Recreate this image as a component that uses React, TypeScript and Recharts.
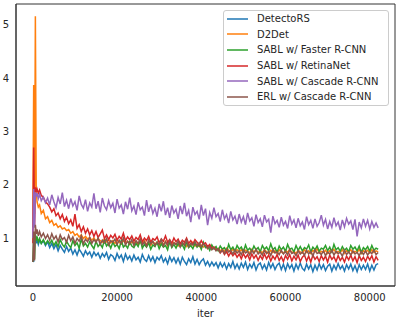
import { LineChart, Line, XAxis, YAxis, ReferenceArea } from "recharts";

// iteration sample points (dense at the start where the spikes are)
const iters = [
  0, 200, 400, 600, 800, 1000, 1300, 1600, 2000, 2500, 3000, 3500,
  4000, 4500, 5000, 5500, 6000, 6500, 7000, 7500, 8000, 8500,
  9000, 9500, 10000, 10500, 11000, 11500, 12000, 12500, 13000, 13500,
  14000, 14500, 15000, 15500, 16000, 16500, 17000, 17500, 18000, 18500,
  19000, 19500, 20000, 20500, 21000, 21500, 22000, 22500, 23000, 23500,
  24000, 24500, 25000, 25500, 26000, 26500, 27000, 27500, 28000, 28500,
  29000, 29500, 30000, 30500, 31000, 31500, 32000, 32500, 33000, 33500,
  34000, 34500, 35000, 35500, 36000, 36500, 37000, 37500, 38000, 38500,
  39000, 39500, 40000, 40500, 41000, 41500, 42000, 42500, 43000, 43500,
  44000, 44500, 45000, 45500, 46000, 46500, 47000, 47500, 48000, 48500,
  49000, 49500, 50000, 50500, 51000, 51500, 52000, 52500, 53000, 53500,
  54000, 54500, 55000, 55500, 56000, 56500, 57000, 57500, 58000, 58500,
  59000, 59500, 60000, 60500, 61000, 61500, 62000, 62500, 63000, 63500,
  64000, 64500, 65000, 65500, 66000, 66500, 67000, 67500, 68000, 68500,
  69000, 69500, 70000, 70500, 71000, 71500, 72000, 72500, 73000, 73500,
  74000, 74500, 75000, 75500, 76000, 76500, 77000, 77500, 78000, 78500,
  79000, 79500, 80000, 80500, 81000, 81500, 82000,
];

const detectoRS = [
  0.6, 0.55, 0.95, 1.0, 0.9, 0.97, 0.88, 0.96, 0.9, 0.95, 0.86, 0.93,
  0.82, 0.9, 0.8, 0.88, 0.76, 0.86, 0.79, 0.73, 0.84, 0.75,
  0.81, 0.7, 0.78, 0.68, 0.79, 0.73, 0.66, 0.76, 0.69, 0.74,
  0.64, 0.74, 0.67, 0.72, 0.62, 0.71, 0.65, 0.73, 0.6, 0.69,
  0.66, 0.58, 0.71, 0.62, 0.68, 0.56, 0.7, 0.6, 0.66, 0.57,
  0.68, 0.59, 0.64, 0.55, 0.69, 0.6, 0.56, 0.67, 0.57, 0.65,
  0.54, 0.64, 0.59, 0.67, 0.55, 0.62, 0.52, 0.65, 0.56, 0.63,
  0.53, 0.62, 0.51, 0.64, 0.56, 0.5, 0.61, 0.54, 0.65, 0.51,
  0.6, 0.5, 0.57, 0.61, 0.49, 0.56, 0.47, 0.55, 0.48, 0.54,
  0.44, 0.54, 0.46, 0.53, 0.42, 0.52, 0.45, 0.56, 0.43, 0.51,
  0.42, 0.53, 0.45, 0.55, 0.41, 0.51, 0.44, 0.54, 0.4, 0.5,
  0.53, 0.42, 0.5, 0.4, 0.54, 0.44, 0.52, 0.41, 0.49, 0.53,
  0.41, 0.51, 0.39, 0.52, 0.43, 0.5, 0.38, 0.51, 0.42, 0.53,
  0.43, 0.39, 0.51, 0.42, 0.5, 0.37, 0.49, 0.4, 0.52, 0.42,
  0.5, 0.39, 0.47, 0.51, 0.38, 0.49, 0.41, 0.52, 0.42, 0.48,
  0.38, 0.5, 0.42, 0.51, 0.39, 0.48, 0.37, 0.5, 0.41, 0.49,
  0.41, 0.51, 0.38, 0.49, 0.4, 0.5, 0.52,
];

const d2det = [
  1.2, 3.87, 1.45, 5.16, 1.9, 1.68, 1.58, 1.62, 1.46, 1.52, 1.36, 1.4,
  1.29, 1.33, 1.24, 1.27, 1.2, 1.23, 1.17, 1.19, 1.14, 1.16,
  1.09, 1.12, 1.05, 1.08, 1.02, 1.06, 0.99, 1.03, 0.98, 1.01,
  0.96, 1.0, 0.94, 0.99, 0.95, 0.92, 0.98, 0.93, 0.97, 0.91,
  0.95, 0.9, 0.96, 0.92, 0.89, 0.95, 0.91, 0.94, 0.88, 0.93,
  0.9, 0.94, 0.87, 0.92, 0.89, 0.95, 0.88, 0.91, 0.86, 0.93,
  0.89, 0.92, 0.86, 0.91, 0.88, 0.94, 0.85, 0.9, 0.87, 0.92,
  0.88, 0.85, 0.91, 0.87, 0.9, 0.84, 0.89, 0.86, 0.92, 0.85,
  0.88, 0.84, 0.87, 0.83, 0.86, 0.8, 0.84, 0.79, 0.82, 0.78,
  0.8, 0.76, 0.79, 0.75, 0.81, 0.77, 0.74, 0.79, 0.75, 0.78,
  0.74, 0.78, 0.73, 0.77, 0.75, 0.72, 0.79, 0.74, 0.77, 0.73,
  0.76, 0.72, 0.78, 0.74, 0.71, 0.77, 0.73, 0.76, 0.72, 0.78,
  0.74, 0.71, 0.77, 0.73, 0.79, 0.72, 0.75, 0.71, 0.77, 0.74,
  0.72, 0.78, 0.73, 0.76, 0.71, 0.77, 0.74, 0.8, 0.72, 0.75,
  0.73, 0.77, 0.71, 0.76, 0.74, 0.79, 0.72, 0.75, 0.73, 0.78,
  0.71, 0.76, 0.74, 0.78, 0.72, 0.75, 0.73, 0.79, 0.71, 0.76,
  0.74, 0.77, 0.72, 0.78, 0.73, 0.76, 0.74,
];

const sablFaster = [
  0.55, 0.98, 0.6, 1.08, 0.95, 1.03, 0.92, 0.99, 0.9, 0.97, 0.88, 0.95,
  0.89, 0.96, 0.86, 0.93, 0.84, 0.97, 0.88, 0.83, 0.94, 0.87,
  0.82, 0.95, 0.86, 0.91, 0.81, 0.98, 0.85, 0.9, 0.83, 0.93,
  0.86, 0.8, 0.94, 0.84, 0.89, 0.82, 0.96, 0.85, 0.9, 0.81,
  0.92, 0.84, 0.88, 0.8, 0.95, 0.83, 0.87, 0.81, 0.93, 0.85,
  0.82, 0.9, 0.84, 0.97, 0.81, 0.88, 0.83, 0.91, 0.79, 0.87,
  0.84, 0.92, 0.8, 0.89, 0.83, 0.86, 0.78, 0.94, 0.82, 0.88,
  0.81, 0.9, 0.84, 0.87, 0.79, 0.93, 0.82, 0.86, 0.8, 0.91,
  0.83, 0.88, 0.79, 0.92, 0.82, 0.85, 0.77, 0.87, 0.8, 0.84,
  0.76, 0.85, 0.79, 0.82, 0.74, 0.88, 0.78, 0.83, 0.75, 0.86,
  0.79, 0.83, 0.74, 0.87, 0.77, 0.81, 0.75, 0.85, 0.78, 0.82,
  0.74, 0.86, 0.79, 0.83, 0.76, 0.89, 0.78, 0.82, 0.73, 0.85,
  0.78, 0.83, 0.75, 0.88, 0.79, 0.81, 0.74, 0.86, 0.77, 0.84,
  0.76, 0.82, 0.79, 0.87, 0.74, 0.83, 0.78, 0.85, 0.75, 0.81,
  0.79, 0.86, 0.76, 0.83, 0.74, 0.88, 0.78, 0.82, 0.75, 0.84,
  0.77, 0.81, 0.74, 0.86, 0.79, 0.83, 0.76, 0.85, 0.73, 0.82,
  0.78, 0.84, 0.75, 0.86, 0.77, 0.81, 0.79,
];

const sablRetina = [
  0.9, 2.7, 1.2, 1.95, 1.86, 1.92, 1.84, 1.9, 1.8, 1.76, 1.68, 1.64,
  1.58, 1.49, 1.55, 1.42, 1.47, 1.36, 1.44, 1.31, 1.39, 1.27,
  1.34, 1.22, 1.45, 1.18, 1.25, 1.12, 1.21, 1.09, 1.17, 1.06,
  1.14, 1.03, 1.12, 1.01, 1.08, 1.15, 0.99, 1.06, 0.97, 1.05,
  1.0, 1.07, 0.96, 1.03, 0.98, 1.09, 0.95, 1.02, 0.97, 1.04,
  0.94, 1.01, 0.97, 1.06, 0.93, 1.0, 0.95, 1.03, 0.92, 0.99,
  0.96, 1.02, 0.91, 0.98, 0.94, 1.04, 0.92, 0.97, 0.9, 1.0,
  0.93, 0.98, 0.89, 0.96, 0.92, 1.0, 0.9, 0.95, 0.88, 0.97,
  0.92, 0.87, 0.95, 0.88, 0.91, 0.84, 0.88, 0.8, 0.83, 0.77,
  0.8, 0.72, 0.77, 0.69, 0.75, 0.66, 0.73, 0.67, 0.72, 0.64,
  0.7, 0.61, 0.71, 0.63, 0.69, 0.59, 0.7, 0.62, 0.68, 0.58,
  0.67, 0.6, 0.7, 0.61, 0.68, 0.57, 0.66, 0.6, 0.69, 0.58,
  0.65, 0.56, 0.67, 0.6, 0.69, 0.57, 0.66, 0.59, 0.68, 0.56,
  0.64, 0.68, 0.57, 0.66, 0.55, 0.68, 0.6, 0.65, 0.56, 0.67,
  0.59, 0.66, 0.55, 0.68, 0.6, 0.65, 0.56, 0.67, 0.58, 0.64,
  0.55, 0.66, 0.59, 0.68, 0.57, 0.65, 0.54, 0.67, 0.58, 0.64,
  0.56, 0.66, 0.59, 0.67, 0.55, 0.65, 0.58,
];

const sablCascade = [
  1.0, 1.92, 1.2, 1.86, 1.78, 1.84, 1.74, 1.82, 1.7, 1.77, 1.66, 1.75,
  1.62, 1.81, 1.68, 1.57, 1.76, 1.64, 1.85, 1.59, 1.71, 1.55,
  1.74, 1.6, 1.68, 1.52, 1.79, 1.63, 1.56, 1.72, 1.5, 1.66,
  1.58, 1.84, 1.55, 1.69, 1.48, 1.75, 1.6, 1.53, 1.7, 1.57,
  1.65, 1.47, 1.73, 1.56, 1.62, 1.45, 1.68, 1.54, 1.76, 1.51,
  1.6, 1.44, 1.67, 1.53, 1.58, 1.42, 1.71, 1.49, 1.63, 1.46,
  1.56, 1.4, 1.64, 1.5, 1.69, 1.43, 1.57, 1.38, 1.61, 1.47,
  1.54, 1.36, 1.6, 1.45, 1.66, 1.41, 1.52, 1.3, 1.58, 1.44,
  1.5, 1.35, 1.62, 1.42, 1.55, 1.24, 1.48, 1.37, 1.57, 1.4,
  1.46, 1.31, 1.53, 1.36, 1.44, 1.28, 1.5, 1.34, 1.41, 1.26,
  1.45, 1.3, 1.4, 1.25, 1.47, 1.32, 1.38, 1.22, 1.44, 1.29,
  1.36, 1.21, 1.43, 1.3, 1.35, 1.1, 1.41, 1.27, 1.33, 1.2,
  1.39, 1.24, 1.31, 1.18, 1.42, 1.26, 1.34, 1.19, 1.37, 1.23,
  1.3, 1.16, 1.4, 1.25, 1.33, 1.18, 1.36, 1.22, 1.29, 1.43,
  1.24, 1.35, 1.17, 1.31, 1.2, 1.38, 1.23, 1.3, 1.15, 1.34,
  1.21, 1.37, 1.26, 1.32, 1.16, 1.35, 1.03, 1.3, 1.19, 1.36,
  1.22, 1.33, 1.17, 1.31, 1.2, 1.28, 1.19,
];

const erlCascade = [
  0.55, 1.12, 0.58, 1.25, 1.08, 1.16, 1.04, 1.12, 1.02, 1.09, 0.99, 1.06,
  0.96, 1.08, 0.98, 1.04, 0.93, 1.06, 0.97, 1.01, 0.92, 1.05,
  0.95, 1.02, 0.9, 0.99, 0.94, 1.04, 0.89, 0.98, 0.93, 1.01,
  0.9, 0.97, 0.92, 1.0, 0.88, 0.96, 0.91, 0.99, 0.87, 0.95,
  0.92, 0.98, 0.88, 0.96, 0.9, 1.0, 0.87, 0.94, 0.89, 0.97,
  0.86, 0.95, 0.9, 0.98, 0.87, 0.93, 0.85, 0.96, 0.89, 0.94,
  0.86, 0.92, 0.88, 0.97, 0.85, 0.93, 0.87, 0.95, 0.84, 0.91,
  0.88, 0.94, 0.83, 0.92, 0.86, 0.96, 0.84, 0.9, 0.87, 0.93,
  0.85, 0.91, 0.83, 0.89, 0.86, 0.8, 0.84, 0.78, 0.82, 0.76,
  0.8, 0.73, 0.78, 0.71, 0.79, 0.74, 0.77, 0.7, 0.78, 0.72,
  0.76, 0.69, 0.78, 0.72, 0.75, 0.68, 0.77, 0.71, 0.79, 0.7,
  0.74, 0.68, 0.77, 0.71, 0.75, 0.67, 0.78, 0.72, 0.74, 0.69,
  0.77, 0.7, 0.75, 0.68, 0.78, 0.71, 0.73, 0.67, 0.76, 0.7,
  0.74, 0.68, 0.77, 0.7, 0.75, 0.66, 0.78, 0.71, 0.73, 0.69,
  0.76, 0.67, 0.74, 0.7, 0.77, 0.68, 0.75, 0.71, 0.73, 0.66,
  0.77, 0.69, 0.74, 0.68, 0.76, 0.7, 0.73, 0.67, 0.75, 0.69,
  0.76, 0.68, 0.74, 0.71, 0.77, 0.69, 0.73,
];

const seriesNames = [
  "DetectoRS",
  "D2Det",
  "SABL w/ Faster R-CNN",
  "SABL w/ RetinaNet",
  "SABL w/ Cascade R-CNN",
  "ERL w/ Cascade R-CNN",
];
const seriesValues = [detectoRS, d2det, sablFaster, sablRetina, sablCascade, erlCascade];
const COLORS = ["#1f77b4", "#ff7f0e", "#2ca02c", "#d62728", "#9467bd", "#8c564b"];

const xTicks = [0, 20000, 40000, 60000, 80000];
const yTicks = [1, 2, 3, 4, 5];
const X_DOMAIN = [-4000, 86000];
const Y_DOMAIN = [0.1, 5.39];

const chartData = iters.map((iter, i) => {
  const row: Record<string, number> = { iter };
  seriesNames.forEach((name, s) => {
    row[name] = seriesValues[s][i];
  });
  return row;
});

const FONT = "DejaVu Sans";
const SPINE = "#333333";
const TEXT = "#262626";

const App = () => {
  return (
    <div
      style={{
        position: "absolute",
        left: 0,
        top: 0,
        width: 398,
        height: 319,
        background: "#fff",
        fontFamily: FONT,
      }}
    >
      <LineChart
        width={398}
        height={319}
        data={chartData}
        margin={{ top: 4, right: 3, bottom: 0, left: 0 }}
      >
        <XAxis
          dataKey="iter"
          type="number"
          domain={X_DOMAIN}
          ticks={xTicks}
          tickLine={false}
          tickSize={0}
          tickMargin={8}
          height={33}
          stroke={SPINE}
          tick={{ fill: TEXT, fontSize: 10, fontFamily: FONT }}
          label={{
            value: "iter",
            position: "insideBottom",
            offset: 2,
            fill: TEXT,
            fontSize: 10,
            fontFamily: FONT,
          }}
        />
        <YAxis
          type="number"
          domain={Y_DOMAIN}
          ticks={yTicks}
          width={16}
          tickLine={false}
          tickSize={0}
          tickMargin={7}
          stroke={SPINE}
          tick={{ fill: TEXT, fontSize: 10, fontFamily: FONT }}
        />
        {seriesNames.map((name, i) => (
          <Line
            key={name}
            type="linear"
            dataKey={name}
            stroke={COLORS[i]}
            strokeWidth={1.5}
            dot={false}
            isAnimationActive={false}
          />
        ))}
        {/* plot frame (matplotlib-style box) */}
        <ReferenceArea
          x1={X_DOMAIN[0]}
          x2={X_DOMAIN[1]}
          y1={Y_DOMAIN[0]}
          y2={Y_DOMAIN[1]}
          fill="none"
          fillOpacity={0}
          stroke={SPINE}
          strokeWidth={1}
        />
      </LineChart>
      <div
        style={{
          position: "absolute",
          left: 223,
          top: 10,
          width: 166,
          height: 96,
          boxSizing: "border-box",
          border: "1px solid #cccccc",
          borderRadius: 3,
          background: "rgba(255,255,255,0.8)",
          fontSize: 10,
          color: TEXT,
        }}
      >
        {seriesNames.map((name, i) => (
          <div
            key={name}
            style={{ display: "flex", alignItems: "center", height: 15.6 }}
          >
            <svg width={24} height={4} style={{ marginLeft: 3 }}>
              <line x1={0} y1={2} x2={21} y2={2} stroke={COLORS[i]} strokeWidth={1.5} />
            </svg>
            <span style={{ marginLeft: 6, whiteSpace: "nowrap" }}>{name}</span>
          </div>
        ))}
      </div>
    </div>
  );
};

export default App;
